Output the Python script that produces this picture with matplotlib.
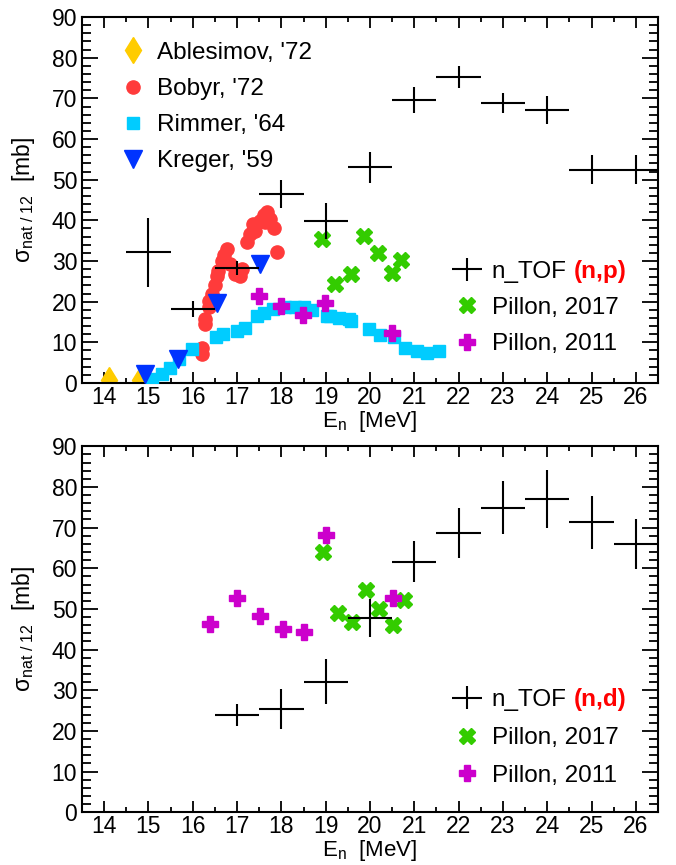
import matplotlib
matplotlib.use('Agg')
import matplotlib.pyplot as plt
from matplotlib.ticker import MultipleLocator
from matplotlib.legend_handler import HandlerErrorbar
import numpy as np

plt.rcParams['font.family'] = ['Liberation Sans', 'DejaVu Sans']
plt.rcParams['mathtext.fontset'] = 'custom'
plt.rcParams['mathtext.rm'] = 'Liberation Sans'
plt.rcParams['mathtext.it'] = 'Liberation Sans:italic'
plt.rcParams['mathtext.bf'] = 'Liberation Sans:bold'

# ---- (n,p) panel data ----
ablesimovE = [14.11, 14.81]
ablesimovS = [0.7, 0.8]

bobyrE = [16.20, 16.21, 16.27, 16.28, 16.36, 16.36, 16.43, 16.50, 16.55, 16.58,
          16.66, 16.70, 16.77, 16.85, 16.96, 17.07, 17.11, 17.22, 17.30, 17.37,
          17.41, 17.52, 17.60, 17.64, 17.68, 17.75, 17.83, 17.90]
bobyrS = [7.2, 8.6, 14.5, 15.8, 18.6, 20.2, 21.9, 24.0, 26.4, 27.5,
          30.1, 31.5, 33.0, 29.3, 26.8, 26.4, 28.0, 34.6, 36.7, 39.1,
          37.5, 39.9, 41.2, 39.5, 42.0, 40.3, 38.0, 32.3]

rimmerE = [15.07, 15.30, 15.49, 15.68, 15.98, 16.53, 16.69, 16.99, 17.19, 17.45,
           17.60, 17.82, 18.09, 18.30, 18.50, 18.70, 19.03, 19.10, 19.29, 19.52,
           19.56, 19.97, 20.22, 20.54, 20.80, 21.07, 21.29, 21.55]
rimmerS = [0.9, 2.2, 3.6, 5.9, 8.4, 11.4, 12.1, 12.7, 13.6, 16.5,
           17.3, 18.2, 18.6, 18.8, 18.6, 18.0, 16.5, 16.6, 16.1, 15.7,
           15.3, 13.2, 11.8, 11.2, 8.7, 7.9, 7.5, 7.9]

kregerE = [14.92, 15.67, 16.55, 17.52]
kregerS = [2.3, 5.8, 19.8, 29.3]

tofE_np = [15, 16, 17, 18, 19, 20, 21, 22, 23, 24, 25, 26]
tofS_np = [32.1, 18.2, 28.3, 46.5, 39.8, 53.1, 69.7, 75.3, 68.9, 67.1, 52.5, 52.5]
tofErr_np = [8.5, 1.9, 1.7, 3.4, 4.5, 3.8, 3.2, 2.7, 2.5, 3.4, 3.5, 3.5]

pil17E_np = [18.92, 19.22, 19.56, 19.86, 20.17, 20.50, 20.69]
pil17S_np = [35.5, 24.3, 26.9, 36.2, 32.0, 27.0, 30.3]
pil11E_np = [17.49, 17.99, 18.49, 18.99, 20.50]
pil11S_np = [21.4, 19.0, 16.7, 19.6, 12.4]

# ---- (n,d) panel data ----
tofE_nd = [17, 18, 19, 20, 21, 22, 23, 24, 25, 26]
tofS_nd = [23.8, 25.3, 32.1, 47.8, 61.6, 68.6, 74.9, 77.0, 71.3, 65.9]
tofErr_nd = [2.7, 4.9, 5.5, 4.6, 5.1, 6.2, 6.5, 7.1, 6.5, 6.2]

pil17E_nd = [18.94, 19.27, 19.60, 19.90, 20.20, 20.52, 20.76]
pil17S_nd = [63.9, 48.9, 46.8, 54.6, 50.0, 46.0, 52.2]
pil11E_nd = [16.38, 17.00, 17.52, 18.03, 18.52, 19.01, 20.52]
pil11S_nd = [46.2, 52.6, 48.3, 45.0, 44.4, 68.2, 52.6]

binHalf = 0.5

cAbl = '#ffcc00'
cBob = '#ff3b3b'
cRim = '#00ccff'
cKre = '#0033ff'
cP17 = '#33cc00'
cP11 = '#cc00cc'

legFont = 17.5


def styleAxes(ax):
    ax.set_xlim(13.5, 26.5)
    ax.set_ylim(0, 90)
    ax.xaxis.set_major_locator(MultipleLocator(1))
    ax.xaxis.set_minor_locator(MultipleLocator(0.5))
    ax.yaxis.set_major_locator(MultipleLocator(10))
    ax.yaxis.set_minor_locator(MultipleLocator(2))
    ax.tick_params(which='both', direction='in', top=True, right=True,
                   width=1.3, labelsize=16.5)
    ax.tick_params(axis='x', which='major', length=8, pad=2)
    ax.tick_params(axis='x', which='minor', length=3.8)
    ax.tick_params(axis='y', which='major', length=11.5, pad=3.5)
    ax.tick_params(axis='y', which='minor', length=6.5)
    for s in ax.spines.values():
        s.set_linewidth(1.5)
    ax.set_xlabel(r'E$_{\rm n}$  [MeV]', fontsize=16, labelpad=0)
    ax.set_ylabel(r'σ$_{\rm nat\ /\ 12}$  [mb]', fontsize=16.5)
    ax.yaxis.set_label_coords(-0.078, 0.5)


def addTof(ax, E, S, err):
    return ax.errorbar(E, S, xerr=binHalf, yerr=err, fmt='none', ecolor='black',
                       elinewidth=1.5, capsize=0, label='n_TOF', zorder=6)


def addPillon(ax, e17, s17, e11, s11):
    h17, = ax.plot(e17, s17, ls='none', marker='X', ms=12, color=cP17,
                   mec=cP17, label='Pillon, 2017', zorder=4)
    h11, = ax.plot(e11, s11, ls='none', marker='P', ms=12, color=cP11,
                   mec=cP11, label='Pillon, 2011', zorder=5)
    return h17, h11


def addRightLegend(ax, handles, reaction, bottom, spacing):
    leg = ax.legend(handles=handles, loc='lower left', bbox_to_anchor=(0.642, bottom),
                    frameon=False, fontsize=legFont, handlelength=1.23, handletextpad=0.41,
                    labelspacing=spacing, borderpad=0, borderaxespad=0, numpoints=1,
                    handler_map={type(handles[0]): HandlerErrorbar(xerr_size=0.62, yerr_size=0.47)})
    ax.annotate(reaction, xy=(1, 0), xycoords=leg.get_texts()[0], xytext=(5, 0),
                textcoords='offset points', ha='left', va='bottom', color='red',
                fontweight='bold', fontsize=legFont, zorder=10)
    return leg


fig = plt.figure(figsize=(6.76, 8.65), dpi=100)
axTop = fig.add_axes([0.1213, 0.5572, 0.8521, 0.4231])
axBot = fig.add_axes([0.1213, 0.0610, 0.8521, 0.4231])

# top panel: (n,p)
hAbl, = axTop.plot(ablesimovE, ablesimovS, ls='none', marker='d', ms=13, color=cAbl,
                   mec=cAbl, label="Ablesimov, '72", zorder=2)
hBob, = axTop.plot(bobyrE, bobyrS, ls='none', marker='o', ms=9.5, color=cBob,
                   mec=cBob, label="Bobyr, '72", zorder=2)
hRim, = axTop.plot(rimmerE, rimmerS, ls='none', marker='s', ms=8.5, color=cRim,
                   mec=cRim, label="Rimmer, '64", zorder=3)
hKre, = axTop.plot(kregerE, kregerS, ls='none', marker='v', ms=13, color=cKre,
                   mec=cKre, label="Kreger, '59", zorder=3)
p17, p11 = addPillon(axTop, pil17E_np, pil17S_np, pil11E_np, pil11S_np)
tofNp = addTof(axTop, tofE_np, tofS_np, tofErr_np)
styleAxes(axTop)

leg1 = axTop.legend(handles=[hAbl, hBob, hRim, hKre], loc='upper left',
                    bbox_to_anchor=(0.0677, 0.932), frameon=False, fontsize=legFont,
                    handlelength=1.0, handletextpad=0.5, labelspacing=0.58,
                    borderpad=0, borderaxespad=0, numpoints=1)
axTop.add_artist(leg1)
addRightLegend(axTop, [tofNp, p17, p11], '(n,p)', 0.0765, 0.58)

# bottom panel: (n,d)
q17, q11 = addPillon(axBot, pil17E_nd, pil17S_nd, pil11E_nd, pil11S_nd)
tofNd = addTof(axBot, tofE_nd, tofS_nd, tofErr_nd)
styleAxes(axBot)
addRightLegend(axBot, [tofNd, q17, q11], '(n,d)', 0.069, 0.65)

fig.canvas.draw()
fig.savefig('out.png', dpi=100)
